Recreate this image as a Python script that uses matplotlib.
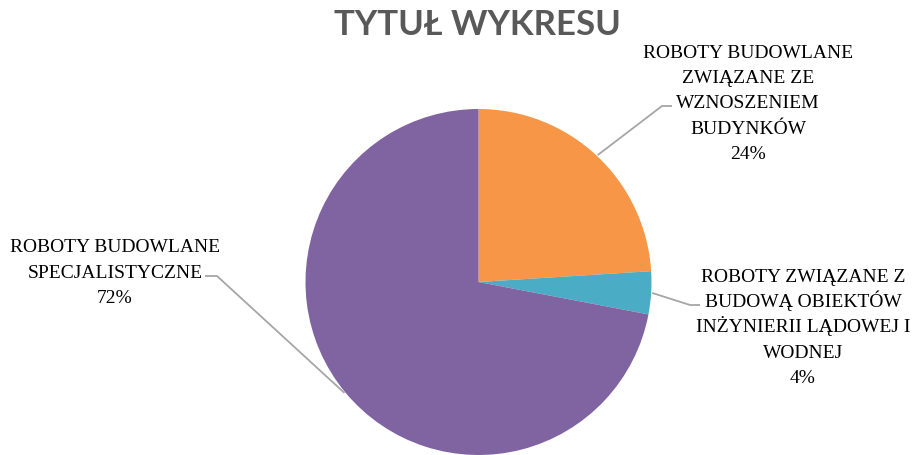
import numpy as np
import matplotlib.pyplot as plt

# dane wykresu
categories = ["ROBOTY BUDOWLANE\nZWIĄZANE ZE\nWZNOSZENIEM\nBUDYNKÓW",
              "ROBOTY ZWIĄZANE Z\nBUDOWĄ OBIEKTÓW\nINŻYNIERII LĄDOWEJ I\nWODNEJ",
              "ROBOTY BUDOWLANE\nSPECJALISTYCZNE"]
values = [24, 4, 72]
colors = ["#F79646", "#4BACC6", "#8064A2"]
title = "TYTUŁ WYKRESU"

W, H = 913, 456

def py(y):
    # pixel y (from top) -> axes y
    return H - y

fig = plt.figure(figsize=(W / 100, H / 100), dpi=100)
ax = fig.add_axes([0, 0, 1, 1])

cx, cy, r = 478.5, py(283), 173
wedges, _ = ax.pie(values, colors=colors, startangle=90, counterclock=False,
                   center=(cx, cy), radius=r, frame=True,
                   wedgeprops=dict(linewidth=0))
ax.set_xlim(0, W)
ax.set_ylim(0, H)
ax.set_aspect("equal")
ax.axis("off")

# label block centers and leader elbows (pixel coords)
label_pos = [(748, 102), (803, 326), (115, 271)]
elbows = [[(662, 107), (672, 107)],
          [(690, 306), (700, 306)],
          [(217, 277), (205, 277)]]
step = 25.3

total = sum(values)
for w, cat, v, (lx, ly), elb in zip(wedges, categories, values, label_pos, elbows):
    mid = np.deg2rad((w.theta1 + w.theta2) / 2)
    sx = cx + (r + 1) * np.cos(mid)
    sy = cy + (r + 1) * np.sin(mid)
    xs = [sx] + [p[0] for p in elb]
    ys = [sy] + [py(p[1]) for p in elb]
    ax.plot(xs, ys, color="#A6A6A6", lw=1.3, solid_capstyle="butt")
    lines = cat.split("\n") + [f"{round(100 * v / total)}%"]
    n = len(lines)
    for i, t in enumerate(lines):
        yc = ly + (i - (n - 1) / 2) * step
        ax.text(lx, py(yc + 6.5), t, ha="center", va="baseline",
                fontsize=14, family="Liberation Serif", color="#000000")

ax.text(477, py(35), title, ha="center", va="baseline", fontsize=25,
        fontweight="bold", family="Lato", color="#595959")

fig.savefig("out.png", dpi=100)
